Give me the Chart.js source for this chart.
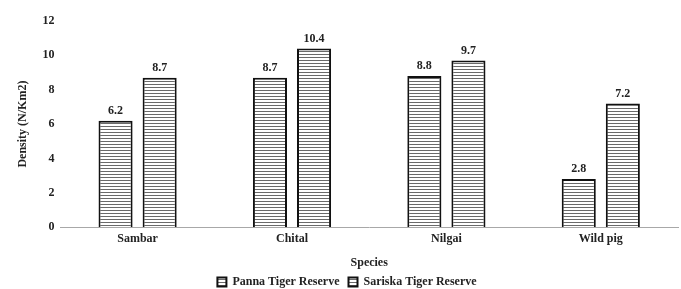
<!DOCTYPE html>
<html>
<head>
<meta charset="utf-8">
<script src="https://cdn.jsdelivr.net/npm/chart.js@4.4.1/dist/chart.umd.min.js"></script>
<style>
  html, body { margin: 0; padding: 0; background: #fff; }
  #wrap { width: 681px; height: 289px; }
</style>
</head>
<body>
<div id="wrap"><canvas id="c" width="681" height="289"></canvas></div>
<script>
const categories = ["Sambar", "Chital", "Nilgai", "Wild pig"];
const pannaValues = [6.2, 8.7, 8.8, 2.8];
const sariskaValues = [8.7, 10.4, 9.7, 7.2];
const seriesNames = ["Panna Tiger Reserve", "Sariska Tiger Reserve"];
const yTicks = [0, 2, 4, 6, 8, 10, 12];

function stripePattern() {
  const p = document.createElement('canvas');
  p.width = 4; p.height = 3;
  const g = p.getContext('2d');
  g.fillStyle = '#ffffff';
  g.fillRect(0, 0, 4, 3);
  g.fillStyle = '#6a6a6a';
  g.fillRect(0, 0, 4, 1);
  return document.getElementById('c').getContext('2d').createPattern(p, 'repeat');
}
const pat = stripePattern();
const FONT = "'Liberation Serif', 'Times New Roman', serif";

const valueLabels = {
  id: 'valueLabels',
  afterDatasetsDraw(chart) {
    const ctx = chart.ctx;
    ctx.save();
    ctx.font = "bold 12px " + FONT;
    ctx.fillStyle = '#222';
    ctx.textAlign = 'center';
    ctx.textBaseline = 'bottom';
    chart.data.datasets.forEach((ds, i) => {
      const meta = chart.getDatasetMeta(i);
      meta.data.forEach((bar, j) => {
        ctx.fillText(ds.data[j].toFixed(1), bar.x, bar.y - 4);
      });
    });
    ctx.restore();
  }
};

new Chart(document.getElementById('c'), {
  type: 'bar',
  data: {
    labels: categories,
    datasets: [
      { label: seriesNames[0], data: pannaValues, backgroundColor: pat, borderColor: '#111', borderWidth: 2 },
      { label: seriesNames[1], data: sariskaValues, backgroundColor: pat, borderColor: '#111', borderWidth: 2 }
    ]
  },
  options: {
    responsive: false,
    animation: false,
    categoryPercentage: 0.571,
    barPercentage: 0.773,
    layout: { padding: { left: 16, right: 3, top: 21, bottom: -9 } },
    plugins: {
      legend: {
        position: 'bottom',
        labels: {
          font: { family: FONT, size: 12, weight: 'bold' },
          color: '#222',
          boxWidth: 9, boxHeight: 9, padding: 9
        }
      },
      tooltip: { enabled: false }
    },
    scales: {
      x: {
        grid: { display: false, drawTicks: false },
        border: { display: true, color: '#a8a8a8', width: 1 },
        ticks: { font: { family: FONT, size: 12, weight: 'bold' }, color: '#222', padding: 5 },
        title: { display: true, text: 'Species', font: { family: FONT, size: 12, weight: 'bold' }, color: '#222', padding: { top: 4, bottom: -3 } }
      },
      y: {
        min: 0, max: 12,
        afterBuildTicks(axis) { axis.ticks = yTicks.map(v => ({ value: v })); },
        grid: { display: false, drawTicks: false },
        border: { display: false },
        ticks: { font: { family: FONT, size: 12, weight: 'bold' }, color: '#222', padding: 6 },
        title: { display: true, text: 'Density (N/Km2)', font: { family: FONT, size: 12, weight: 'bold' }, color: '#222', padding: { top: 0, bottom: 6 } }
      }
    }
  },
  plugins: [valueLabels]
});
</script>
</body>
</html>
